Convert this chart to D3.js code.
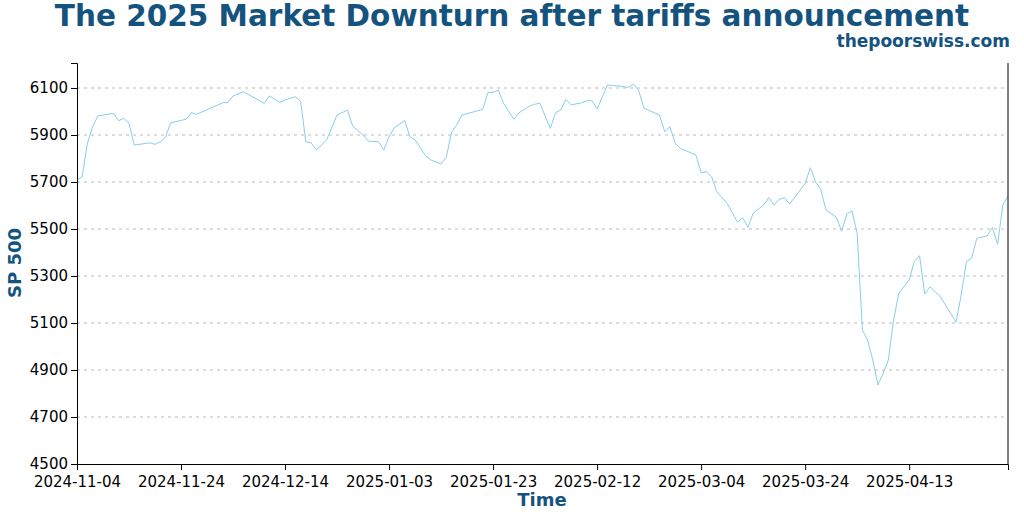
<!DOCTYPE html>
<html>
<head>
<meta charset="utf-8">
<script src="https://cdn.jsdelivr.net/npm/d3@7"></script>
<style>
  body { margin: 0; background: #fff; }
  text { font-family: "DejaVu Sans", sans-serif; }
</style>
</head>
<body>
<svg id="chart" width="1024" height="512"></svg>
<script>
// days after 2024-11-04
var dayOffsets = [0,1,2,3,4,7,8,9,10,11,14,15,16,17,18,21,22,23,27,28,29,30,32,36,37,39,40,42,43,44,45,46,48,50,52,53,55,56,58,59,60,61,63,64,65,67,68,70,71,72,73,74,77,78,79,80,81,82,84,85,87,88,89,91,92,93,94,95,97,98,99,100,102,103,106,107,108,109,112,113,114,115,116,119,120,121,122,123,125,126,127,128,129,130,132,133,134,135,136,137,140,141,142,143,144,146,147,148,149,150,151,152,153,154,155,156,157,158,160,161,162,163,164,166,169,170,171,172,173,175,176,177,178,179];
var spValues = [5709,5722,5865,5935,5981,5992,5961,5971,5950,5857,5867,5860,5871,5890,5952,5967,5995,5988,6027,6037,6039,6066,6084,6035,6066,6039,6049,6063,6042,5871,5867,5836,5879,5985,6006,5938,5900,5874,5871,5836,5893,5931,5961,5893,5879,5812,5794,5777,5805,5910,5943,5985,6003,6009,6080,6082,6091,6035,5967,5995,6023,6031,6035,5928,5995,6006,6052,6028,6037,6046,6046,6011,6113,6111,6103,6116,6089,6014,5985,5914,5935,5865,5843,5815,5740,5744,5723,5659,5609,5569,5529,5548,5507,5567,5602,5633,5602,5626,5633,5606,5694,5761,5701,5669,5581,5550,5491,5563,5577,5482,5070,5028,4943,4836,4886,4943,5113,5226,5283,5364,5386,5223,5254,5212,5103,5219,5361,5375,5460,5471,5506,5435,5602,5640];
var yTicks = [4500,4700,4900,5100,5300,5500,5700,5900,6100];
var xTickLabels = ['2024-11-04','2024-11-24','2024-12-14','2025-01-03','2025-01-23','2025-02-12','2025-03-04','2025-03-24','2025-04-13'];

var startDate = new Date(2024, 10, 4);
var parseDay = d3.timeParse('%Y-%m-%d');
var fmtDay = d3.timeFormat('%Y-%m-%d');

var points = dayOffsets.map(function(d, i) {
  return { date: d3.timeDay.offset(startDate, d), value: spValues[i] };
});

var margin = { left: 77, right: 16, top: 63, bottom: 48 };
var width = 1024, height = 512;
var svg = d3.select('#chart');

var x = d3.scaleTime()
    .domain([startDate, d3.timeDay.offset(startDate, 179)])
    .range([margin.left, width - margin.right]);
var y = d3.scaleLinear()
    .domain([4500, 4500 + (height - margin.bottom - margin.top) / 0.235])
    .range([height - margin.bottom, margin.top]);

// grid
svg.append('g').selectAll('line')
  .data(yTicks.slice(1))
  .enter().append('line')
    .attr('x1', margin.left).attr('x2', width - margin.right)
    .attr('y1', function(d) { return y(d); }).attr('y2', function(d) { return y(d); })
    .attr('stroke', '#bbb').attr('stroke-dasharray', '3,4').attr('stroke-width', 1);

var line = d3.line()
    .x(function(d) { return x(d.date); })
    .y(function(d) { return y(d.value); });

svg.append('path')
  .datum(points)
  .attr('d', line)
  .attr('fill', 'none')
  .attr('stroke', '#87ceeb')
  .attr('stroke-width', 1);

var xAxis = svg.append('g')
  .attr('transform', 'translate(0,' + (height - margin.bottom) + ')')
  .call(d3.axisBottom(x).tickValues(xTickLabels.map(parseDay)).tickFormat(fmtDay).tickSizeOuter(0).tickSize(6));
var yAxis = svg.append('g')
  .attr('transform', 'translate(' + margin.left + ',0)')
  .call(d3.axisLeft(y).tickValues(yTicks).tickFormat(d3.format('d')).tickSizeOuter(0).tickSize(6));

[xAxis, yAxis].forEach(function(a) {
  a.selectAll('text').attr('font-size', 15).attr('fill', '#000').style('font-family', 'DejaVu Sans');
  a.selectAll('path,line').attr('stroke', '#000');
});
xAxis.selectAll('text').attr('dy', '0.95em');

svg.append('line')
  .attr('x1', width - margin.right).attr('x2', width - margin.right)
  .attr('y1', margin.top).attr('y2', height - margin.bottom)
  .attr('stroke', '#000');

var blue = '#15537f';
svg.append('text').attr('x', 512).attr('y', 26).attr('text-anchor', 'middle')
  .attr('font-size', 29.5).attr('font-weight', 'bold').attr('fill', blue)
  .text('The 2025 Market Downturn after tariffs announcement');
svg.append('text').attr('x', 1010).attr('y', 47).attr('text-anchor', 'end')
  .attr('font-size', 17).attr('font-weight', 'bold').attr('fill', blue)
  .text('thepoorswiss.com');
svg.append('text').attr('x', 542).attr('y', 506).attr('text-anchor', 'middle')
  .attr('font-size', 18).attr('font-weight', 'bold').attr('fill', blue)
  .text('Time');
svg.append('text').attr('transform', 'translate(21,263) rotate(-90)').attr('text-anchor', 'middle')
  .attr('font-size', 18).attr('font-weight', 'bold').attr('fill', blue)
  .text('SP 500');
</script>
</body>
</html>
